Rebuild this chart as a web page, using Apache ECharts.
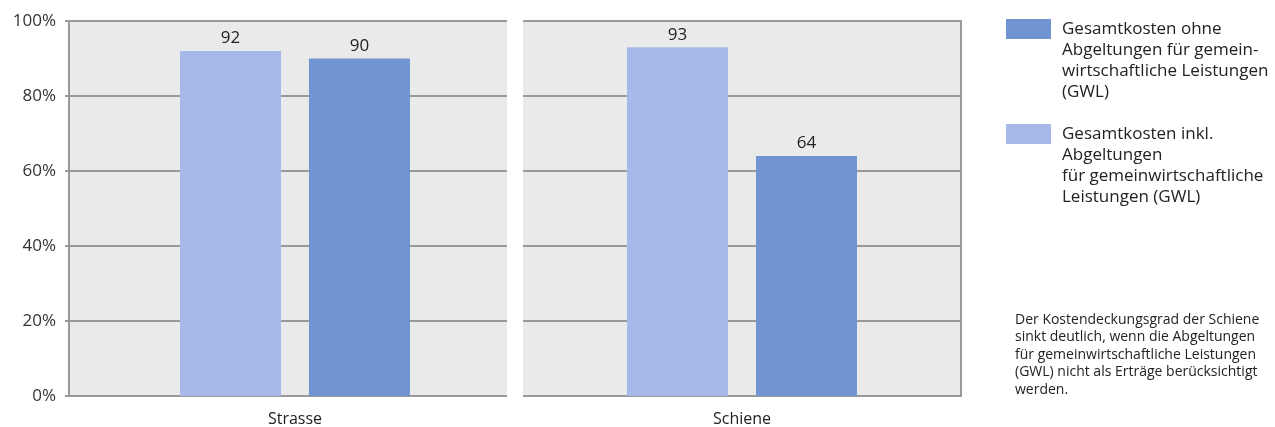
<!DOCTYPE html>
<html>
<head>
<meta charset="utf-8">
<script src="https://cdn.jsdelivr.net/npm/echarts@6/dist/echarts.min.js"></script>
<style>
  html, body { margin: 0; padding: 0; background: #fff; }
  #main { width: 1275px; height: 427px; }
</style>
</head>
<body>
<div id="main"></div>
<script>
// Daten
const categories = ['Strasse', 'Schiene'];
const inklGWL = [92, 93];
const ohneGWL = [90, 64];
const seriesNames = ['Gesamtkosten inkl. GWL', 'Gesamtkosten ohne GWL'];
const legendTexts = {
  'Gesamtkosten ohne GWL': 'Gesamtkosten ohne\nAbgeltungen für gemein-\nwirtschaftliche Leistungen\n(GWL)',
  'Gesamtkosten inkl. GWL': 'Gesamtkosten inkl.\nAbgeltungen\nfür gemeinwirtschaftliche\nLeistungen (GWL)'
};
const note = 'Der Kostendeckungsgrad der Schiene\nsinkt deutlich, wenn die Abgeltungen\nfür gemeinwirtschaftliche Leistungen\n(GWL) nicht als Erträge berücksichtigt\nwerden.';

const FONT = 'Open Sans';
const lineColor = '#999';
const colors = ['#a7b9e8', '#7195d3'];

var myChart = echarts.init(document.getElementById('main'));

//两个面板
const grids = [
  { left: 69, top: 21, width: 452, height: 377 },
  { left: 523, top: 21, width: 438, height: 377 }
];

function yAxisFor(i) {
  return {
    type: 'value',
    gridIndex: i,
    min: 0,
    max: 100,
    interval: 20,
    position: i === 0 ? 'left' : 'right',
    axisLine: { show: true, lineStyle: { color: lineColor, width: 2 } },
    axisTick: { show: i === 0, length: 4, lineStyle: { color: lineColor, width: 2 } },
    axisLabel: {
      show: i === 0,
      formatter: '{value}%',
      color: '#333',
      fontFamily: FONT,
      fontSize: 17,
      margin: 13
    },
    splitLine: { show: true, lineStyle: { color: lineColor, width: 2 } }
  };
}

function xAxisFor(i) {
  return {
    type: 'category',
    gridIndex: i,
    data: [categories[i]],
    axisLine: { show: true, lineStyle: { color: lineColor, width: 2 } },
    axisTick: { show: false },
    axisLabel: { color: '#222', fontFamily: FONT, fontSize: 16, margin: 15 }
  };
}

const series = [];
[0, 1].forEach(i => {
  [inklGWL, ohneGWL].forEach((vals, k) => {
    series.push({
      name: seriesNames[k],
      type: 'bar',
      xAxisIndex: i,
      yAxisIndex: i,
      data: [vals[i]],
      barWidth: 101,
      barGap: '27.7%',
      itemStyle: { color: colors[k] },
      label: {
        show: true,
        position: 'top',
        distance: 4,
        color: '#222',
        fontFamily: FONT,
        fontSize: 17
      }
    });
  });
});

var option = {
  animation: false,
  grid: grids.map(g => Object.assign({ show: true, backgroundColor: '#eaeaea', borderWidth: 0 }, g)),
  xAxis: [xAxisFor(0), xAxisFor(1)],
  yAxis: [yAxisFor(0), yAxisFor(1)],
  legend: {
    orient: 'vertical',
    left: 1006,
    top: 19,
    padding: 0,
    itemGap: 21,
    itemWidth: 45,
    itemHeight: 84,
    symbolKeepAspect: false,
    //图标在上方
    icon: 'path://M0,0L45,0L45,20L0,20Z M0,84L45,84',
    selectedMode: false,
    data: [seriesNames[1], seriesNames[0]],
    formatter: name => legendTexts[name],
    textStyle: {
      color: '#222',
      fontFamily: FONT,
      fontSize: 17,
      lineHeight: 21,
      padding: [0, 0, 0, 6]
    }
  },
  graphic: [
    //面板之间的白色间隔
    {
      type: 'rect',
      z: 100,
      shape: { x: 507, y: 10, width: 16, height: 395 },
      style: { fill: '#fff' }
    },
    {
      type: 'text',
      left: 1015,
      top: 311,
      style: {
        text: note,
        fill: '#222',
        font: '14px "Open Sans"',
        lineHeight: 17.5
      }
    }
  ],
  series: series
};

option && myChart.setOption(option);
</script>
</body>
</html>
